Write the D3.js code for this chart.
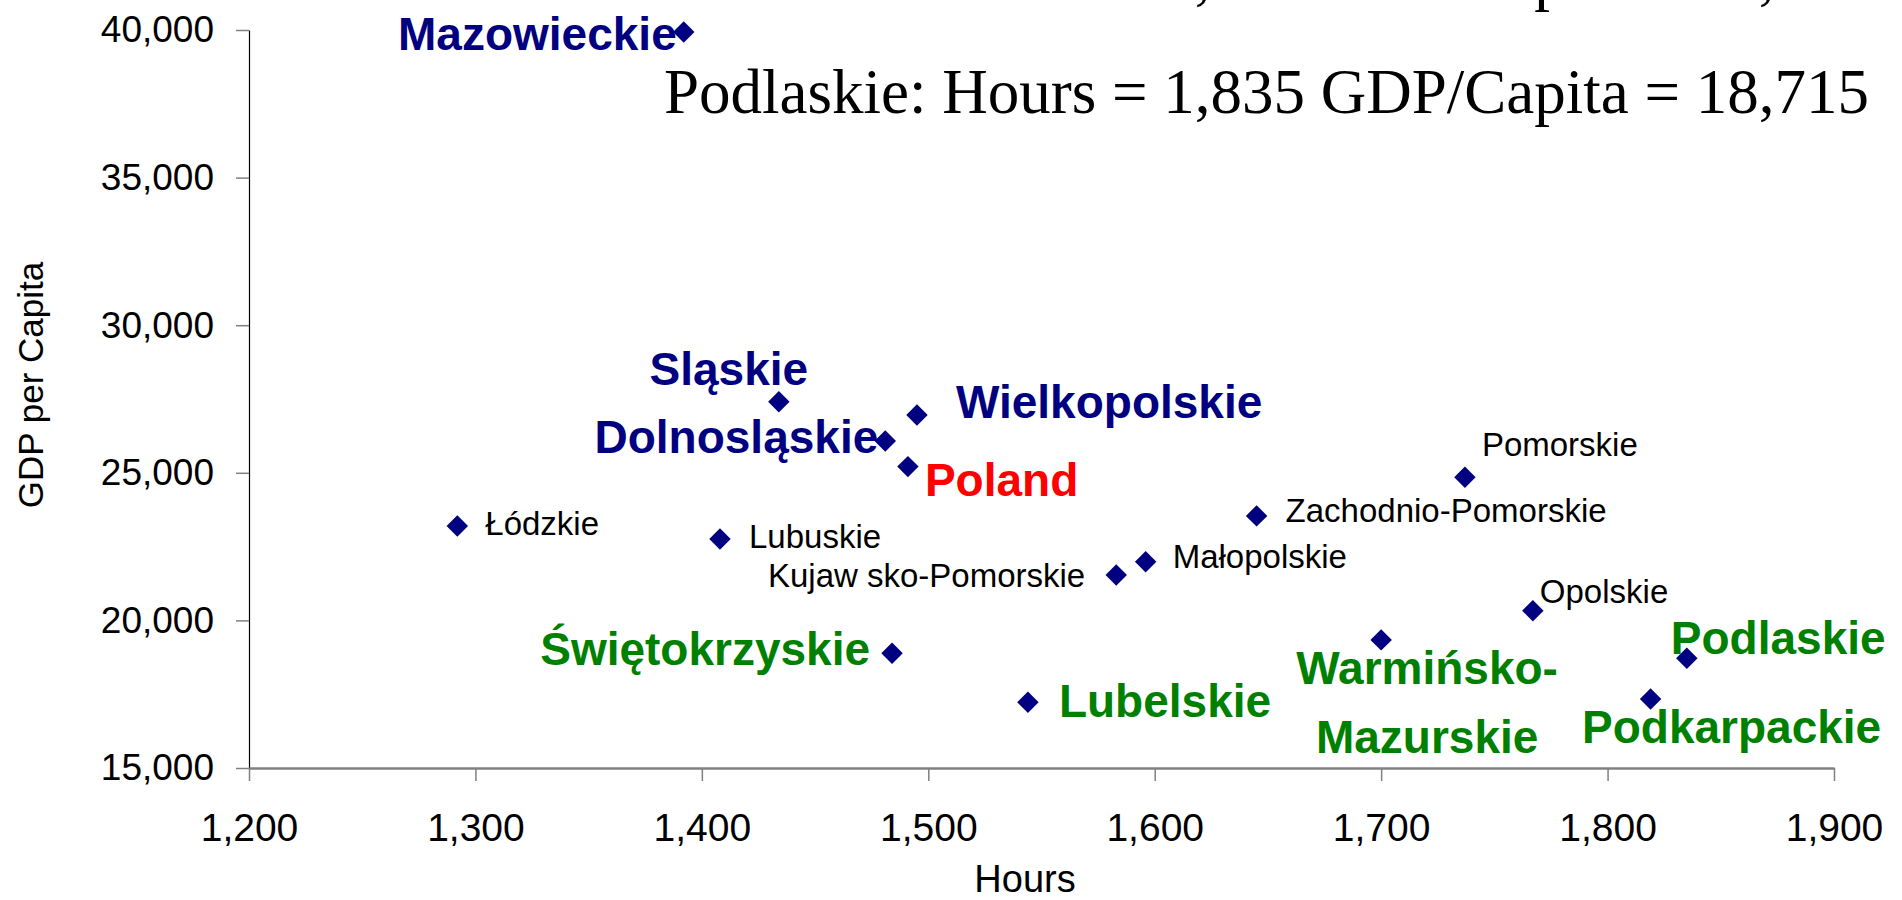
<!DOCTYPE html>
<html>
<head>
<meta charset="utf-8">
<script src="https://cdn.jsdelivr.net/npm/d3@7"></script>
<style>
  body { margin: 0; background: #fff; }
  svg { display: block; }
</style>
</head>
<body>
<div id="chart"></div>
<script>
// data
const regions = ["Mazowieckie", "Sląskie", "Wielkopolskie", "Dolnosląskie", "Poland", "Łódzkie",
  "Lubuskie", "Kujaw sko-Pomorskie", "Małopolskie", "Zachodnio-Pomorskie", "Pomorskie", "Opolskie",
  "Świętokrzyskie", "Lubelskie", "Warmińsko-Mazurskie", "Podlaskie", "Podkarpackie"];
const hours = [1392, 1434, 1495, 1481, 1491, 1292, 1408, 1583, 1596, 1645, 1737, 1767, 1484, 1544, 1700, 1835, 1819];
const gdpPerCapita = [39930, 27410, 26960, 26080, 25210, 23200, 22760, 21540, 21990, 23540, 24850, 20330, 18890, 17230, 19340, 18715, 17340];
// high = richest, low = poorest, avg = national, other = plain label
const groups = ["high", "high", "high", "high", "avg", "other", "other", "other", "other", "other", "other", "other",
  "low", "low", "low", "low", "low"];

const xTicks = [1200, 1300, 1400, 1500, 1600, 1700, 1800, 1900];
const yTicks = [15000, 20000, 25000, 30000, 35000, 40000];
const headline = "Podlaskie: Hours = 1,835 GDP/Capita = 18,715";

// where each label sits relative to its marker: [anchor, dx, dy, lines]
const labelLayout = {
  "Mazowieckie": ["end", -7, 18],
  "Sląskie": ["middle", -50, -17],
  "Wielkopolskie": ["start", 39, 3],
  "Dolnosląskie": ["end", -7, 12],
  "Poland": ["start", 17, 29],
  "Łódzkie": ["start", 28, 9],
  "Lubuskie": ["start", 29, 9],
  "Kujaw sko-Pomorskie": ["end", -31, 12],
  "Małopolskie": ["start", 27, 6],
  "Zachodnio-Pomorskie": ["start", 29, 6],
  "Pomorskie": ["start", 17, -21],
  "Opolskie": ["start", 7, -8],
  "Świętokrzyskie": ["end", -22, 12],
  "Lubelskie": ["start", 31, 15],
  "Warmińsko-Mazurskie": ["middle", 46, 44, ["Warmińsko-", "Mazurskie"]],
  "Podlaskie": ["start", -16, -4],
  "Podkarpackie": ["middle", 81, 44]
};

const colors = { high: "#000080", low: "#008000", avg: "#ff0000", other: "#000000" };

const width = 1902, height = 900;
const margin = { top: 30, right: 68, bottom: 132, left: 249 };

const svg = d3.select("#chart").append("svg")
  .attr("width", width)
  .attr("height", height);

const x = d3.scaleLinear().domain([1200, 1900]).range([margin.left, width - margin.right]);
const y = d3.scaleLinear().domain([15000, 40000]).range([height - margin.bottom, margin.top]);

// y axis
const yAxis = svg.append("g")
  .attr("transform", `translate(${margin.left},0)`)
  .call(d3.axisLeft(y).tickValues(yTicks).tickFormat(d3.format(",")).tickSize(13).tickPadding(22).tickSizeOuter(0));
yAxis.select(".domain").attr("stroke", "#000").attr("stroke-width", 1.2);
yAxis.selectAll(".tick line").attr("stroke", "#808080").attr("stroke-width", 1.5);
yAxis.selectAll("text").attr("font-family", "Liberation Sans, Arial, sans-serif").attr("font-size", 37).attr("fill", "#000");

// x axis
const xAxis = svg.append("g")
  .attr("transform", `translate(0,${height - margin.bottom})`)
  .call(d3.axisBottom(x).tickValues(xTicks).tickFormat(d3.format(",")).tickSize(13).tickPadding(32).tickSizeOuter(0));
xAxis.select(".domain").attr("stroke", "#808080").attr("stroke-width", 2.5);
xAxis.selectAll(".tick line").attr("stroke", "#808080").attr("stroke-width", 1.5);
xAxis.selectAll("text").attr("font-family", "Liberation Sans, Arial, sans-serif").attr("font-size", 39).attr("fill", "#000");

// axis titles
svg.append("text")
  .attr("x", 1025).attr("y", 892)
  .attr("text-anchor", "middle")
  .attr("font-family", "Liberation Sans, Arial, sans-serif")
  .attr("font-size", 38)
  .text("Hours");

svg.append("text")
  .attr("transform", "translate(43,385) rotate(-90)")
  .attr("text-anchor", "middle")
  .attr("font-family", "Liberation Sans, Arial, sans-serif")
  .attr("font-size", 35)
  .text("GDP per Capita");

// square diamond marker
const diamond = {
  draw(ctx, size) {
    const r = Math.sqrt(size / 2);
    ctx.moveTo(0, -r); ctx.lineTo(r, 0); ctx.lineTo(0, r); ctx.lineTo(-r, 0); ctx.closePath();
  }
};

const points = regions.map((name, i) => ({ name, hours: hours[i], gdp: gdpPerCapita[i], group: groups[i] }));

svg.append("g").selectAll("path")
  .data(points)
  .join("path")
  .attr("transform", d => `translate(${x(d.hours)},${y(d.gdp)})`)
  .attr("d", d3.symbol().type(diamond).size(230))
  .attr("fill", "#000080");

// labels
svg.append("g").selectAll("text")
  .data(points)
  .join("text")
  .each(function(d) {
    const [anchor, dx, dy, lines] = labelLayout[d.name];
    const bold = d.group !== "other";
    const t = d3.select(this)
      .attr("text-anchor", anchor)
      .attr("font-family", "Liberation Sans, Arial, sans-serif")
      .attr("font-size", bold ? 46 : 33)
      .attr("font-weight", bold ? "bold" : "normal")
      .attr("fill", colors[d.group]);
    (lines || [d.name]).forEach((line, k) => {
      t.append("tspan")
        .attr("x", x(d.hours) + dx)
        .attr("y", y(d.gdp) + dy + k * 69)
        .text(line);
    });
  });

// overlay caption text (line above is mostly cut off by the top edge)
svg.append("text")
  .attr("x", 664).attr("y", -2)
  .attr("font-family", "Liberation Serif, Times New Roman, serif")
  .attr("font-size", 63)
  .text(headline);

svg.append("text")
  .attr("x", 664).attr("y", 113)
  .attr("font-family", "Liberation Serif, Times New Roman, serif")
  .attr("font-size", 63)
  .text(headline);
</script>
</body>
</html>
